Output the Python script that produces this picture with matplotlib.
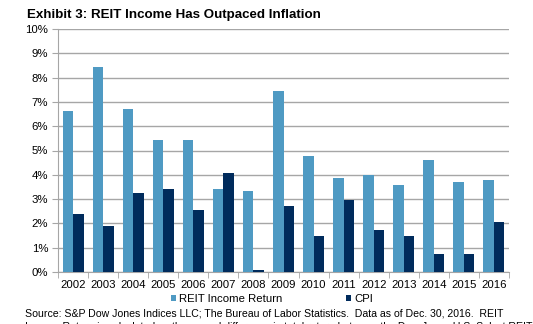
import numpy as np
import matplotlib.pyplot as plt
from matplotlib.ticker import FixedLocator, PercentFormatter

# data (percent)
years = ["2002", "2003", "2004", "2005", "2006", "2007", "2008", "2009",
         "2010", "2011", "2012", "2013", "2014", "2015", "2016"]
reit_income = [6.62, 8.44, 6.70, 5.43, 5.45, 3.42, 3.33, 7.44,
               4.77, 3.86, 4.00, 3.57, 4.61, 3.70, 3.78]
cpi = [2.38, 1.88, 3.26, 3.42, 2.54, 4.08, 0.09, 2.72,
       1.50, 2.96, 1.74, 1.50, 0.76, 0.73, 2.07]

light = "#4F9AC3"
dark = "#002B5C"
gridc = "#A6A6A6"

plt.rcParams['font.family'] = ['Liberation Sans', 'DejaVu Sans']

fig = plt.figure(figsize=(5.33, 3.24), dpi=100)
ax = fig.add_axes([58/533, 1-272/324, (509-58)/533, (272-29)/324])

x = np.arange(len(years))
w = 0.35
ax.bar(x - w/2, reit_income, w, color=light, label="REIT Income Return", zorder=3)
ax.bar(x + w/2, cpi, w, color=dark, label="CPI", zorder=3)

ax.set_xlim(-0.5, len(years) - 0.5)
ax.set_ylim(0, 10)
ax.set_yticks(np.arange(0, 11, 1))
ax.yaxis.set_major_formatter(PercentFormatter(decimals=0))
ax.set_xticks(x)
ax.set_xticklabels(years)
ax.xaxis.set_minor_locator(FixedLocator(np.arange(-0.5, len(years), 1)))
ax.tick_params(axis='x', which='major', length=0, labelsize=8.2, pad=6)
ax.tick_params(axis='x', which='minor', length=4, color=gridc, direction='out')
ax.tick_params(axis='y', length=4, color=gridc, labelsize=8.2, pad=3)

ax.grid(axis='y', color=gridc, linewidth=1, zorder=0)
for s in ["top", "right"]:
    ax.spines[s].set_visible(False)
for s in ["left", "bottom"]:
    ax.spines[s].set_color(gridc)

fig.text(27/533, 1-15/324, "Exhibit 3: REIT Income Has Outpaced Inflation",
         fontsize=9.6, fontweight='bold', va='center', ha='left')

h, l = ax.get_legend_handles_labels()
fig.legend(h, l, loc='center', bbox_to_anchor=(272/533, 1-299/324), ncol=2, frameon=False,
           fontsize=8.2, handlelength=0.45, handleheight=0.45, columnspacing=5.6,
           handletextpad=0.25, borderpad=0, borderaxespad=0)

# source note, second line is cut by the bottom edge like in the original
fig.text(25/533, 1-314/324, "Source: S&P Dow Jones Indices LLC; The Bureau of Labor Statistics.  "
         "Data as of Dec. 30, 2016.  REIT", fontsize=7.55, va='center', ha='left')
fig.text(25/533, 1-327/324, "Income Return is calculated as the annual difference in total return "
         "between the Dow Jones U.S. Select REIT", fontsize=7.55, va='center', ha='left')

fig.savefig("out.png", dpi=100)
